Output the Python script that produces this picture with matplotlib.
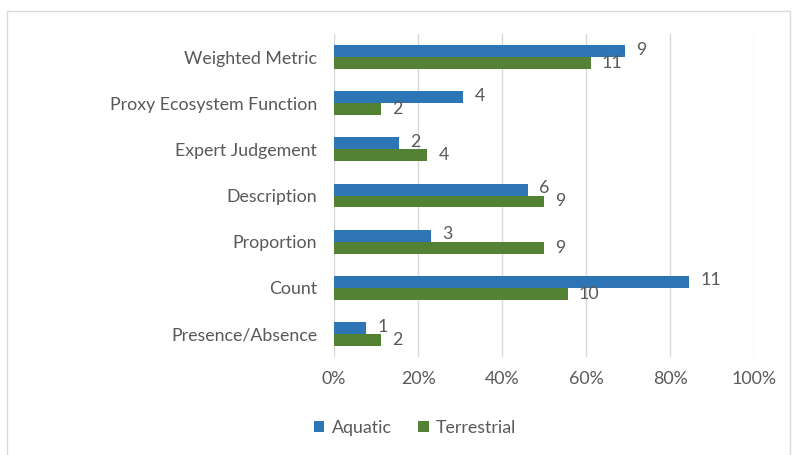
import matplotlib
matplotlib.use("Agg")
from matplotlib import pyplot as plt
from matplotlib.patches import Rectangle
from matplotlib.ticker import PercentFormatter

categories = ['Weighted Metric', 'Proxy Ecosystem Function', 'Expert Judgement',
              'Description', 'Proportion', 'Count', 'Presence/Absence']
aquatic_pct = [69.2, 30.8, 15.4, 46.2, 23.1, 84.6, 7.7]
terrestrial_pct = [61.1, 11.1, 22.2, 50.0, 50.0, 55.6, 11.1]
aquatic_n = [9, 4, 2, 6, 3, 11, 1]
terrestrial_n = [11, 2, 4, 9, 9, 10, 2]
xticks = [0, 20, 40, 60, 80, 100]

blue = '#2E75B6'
green = '#548235'
grey = '#595959'

plt.rcParams['font.family'] = ['Lato', 'DejaVu Sans']
fs = 12.8

fig = plt.figure(figsize=(7.97, 4.55), dpi=100)
ax = fig.add_axes([334/797, 1-357/455, 420/797, 323/455])

# outer chart frame
fig.patches.append(Rectangle((7/797, -0.1), 783/797, 1.1 - 11/455,
                             transform=fig.transFigure, fill=False,
                             edgecolor='#D9D9D9', linewidth=1))

h = 0.26
ypos = list(range(len(categories)))
ya = [y - h/2 for y in ypos]
yt = [y + h/2 for y in ypos]
ba = ax.barh(ya, aquatic_pct, height=h, color=blue, label='Aquatic', zorder=3)
bt = ax.barh(yt, terrestrial_pct, height=h, color=green, label='Terrestrial', zorder=3)

for y, v, n in zip(ya, aquatic_pct, aquatic_n):
    ax.annotate(str(n), (v, y), xytext=(8, 1), textcoords='offset points',
                va='center', ha='left', color=grey, fontsize=fs)
for y, v, n in zip(yt, terrestrial_pct, terrestrial_n):
    ax.annotate(str(n), (v, y), xytext=(8, 0), textcoords='offset points',
                va='center', ha='left', color=grey, fontsize=fs)

ax.set_ylim(len(categories) - 0.5, -0.5)
ax.set_yticks(ypos)
ax.set_yticklabels(categories)
ax.set_xlim(0, 100)
ax.set_xticks(xticks)
ax.xaxis.set_major_formatter(PercentFormatter(decimals=0))
ax.tick_params(axis='y', length=0, pad=12, labelcolor=grey, labelsize=fs)
ax.tick_params(axis='x', length=0, pad=10, labelcolor=grey, labelsize=fs)
ax.grid(axis='x', color='#D9D9D9', linewidth=1, zorder=0)
for s in ax.spines.values():
    s.set_visible(False)

fig.legend(handles=[ba, bt], loc='center', bbox_to_anchor=(415/797, 1-428/455),
           ncol=2, frameon=False, handlelength=0.6, handleheight=0.6,
           handletextpad=0.4, columnspacing=1.5, labelcolor=grey, fontsize=fs)

fig.savefig('out.png', dpi=100)
